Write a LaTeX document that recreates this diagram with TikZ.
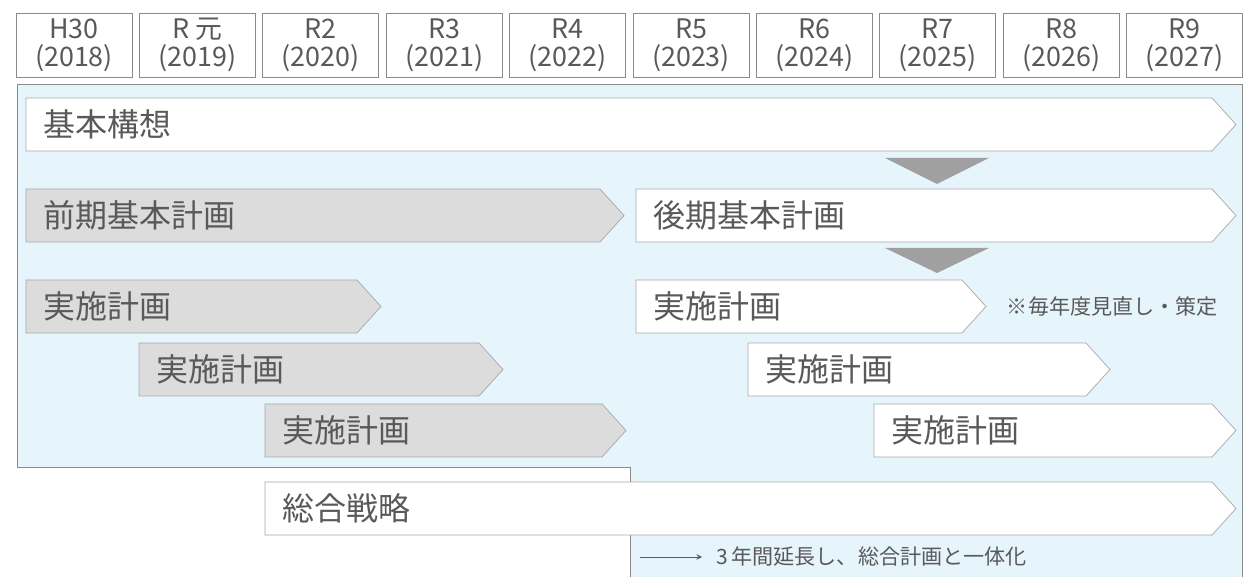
\documentclass[tikz,border=0pt]{standalone}
\usepackage{fontspec}
\setmainfont{Noto Sans CJK JP}
\usepackage{tikz}
\usetikzlibrary{calc,positioning,arrows}

\definecolor{txtgray}{HTML}{595959}
\definecolor{boxline}{HTML}{8A8A8A}
\definecolor{barline}{HTML}{A8A8A8}
\definecolor{barfill}{HTML}{DCDCDC}
\definecolor{areablue}{HTML}{E6F4FC}
\definecolor{downgray}{HTML}{A0A0A0}

% pentagon bar: style, x start, x tip, y top, name, label
\newcommand{\planbar}[6]{%
  \draw[#1] (#2,#4) -- (#3-24,#4) -- (#3,#4+26.5) -- (#3-24,#4+53) -- (#2,#4+53) -- cycle;
  \node[bartext] (#5) at (#2+11,#4+26.5) {#6};}

\begin{document}
\begin{tikzpicture}[x=0.02cm, y=-0.02cm,
  yearbox/.style={draw=boxline,fill=white,minimum width=2.32cm,minimum height=1.28cm,inner sep=0pt,align=center,text=txtgray,font=\fontsize{15.3}{15.9}\selectfont},
  bartext/.style={anchor=west,text=txtgray,font=\fontsize{18.2}{18.2}\selectfont},
  greybar/.style={draw=barline,fill=barfill},
  whitebar/.style={draw=barline,fill=white},
  notetext/.style={text=txtgray,font=\fontsize{12}{12}\selectfont}]
  \useasboundingbox (0,0) rectangle (1252,577);

  % blue area
  \fill[areablue] (17,84) -- (1242,84) -- (1242,577) -- (630,577) -- (630,467) -- (17,467) -- cycle;
  \draw[boxline] (630,577) -- (630,467) -- (17,467) -- (17,84) -- (1242,84) -- (1242,577);

  % years
  \foreach \era/\ad [count=\i from 0] in {H30/2018,R 元/2019,R2/2020,R3/2021,R4/2022,R5/2023,R6/2024,R7/2025,R8/2026,R9/2027}
    \node[yearbox] (yr\i) at (74+123.4*\i,45) {\era\\(\ad)};

  \planbar{whitebar}{26}{1236}{98}{kihon}{基本構想}
  \fill[downgray] (885,158) -- (989,158) -- (937,184) -- cycle;

  \planbar{greybar}{26}{624}{189}{zenki}{前期基本計画}
  \planbar{whitebar}{636}{1236}{189}{kouki}{後期基本計画}
  \fill[downgray] (885,248) -- (989,248) -- (937,273) -- cycle;

  \planbar{greybar}{26}{381}{280}{jisshiA}{実施計画}
  \planbar{greybar}{139}{503}{343}{jisshiB}{実施計画}
  \planbar{greybar}{265}{626}{404}{jisshiC}{実施計画}
  \planbar{whitebar}{636}{986}{280}{jisshiD}{実施計画}
  \planbar{whitebar}{748}{1110}{343}{jisshiE}{実施計画}
  \planbar{whitebar}{874}{1236}{404}{jisshiF}{実施計画}
  \node[notetext,anchor=east] (yearly) at (1224,307) {※毎年度見直し・策定};

  \planbar{whitebar}{265}{1236}{482}{senryaku}{総合戦略}

  \coordinate (extstart) at (640,557);
  \node[notetext,anchor=west,inner sep=0pt] (extend) at (716,557) {3\,年間延長し、総合計画と一体化};
  \draw[->,>=stealth,txtgray,shorten >=0.28cm] (extstart) -- (extend.west);
\end{tikzpicture}
\end{document}
